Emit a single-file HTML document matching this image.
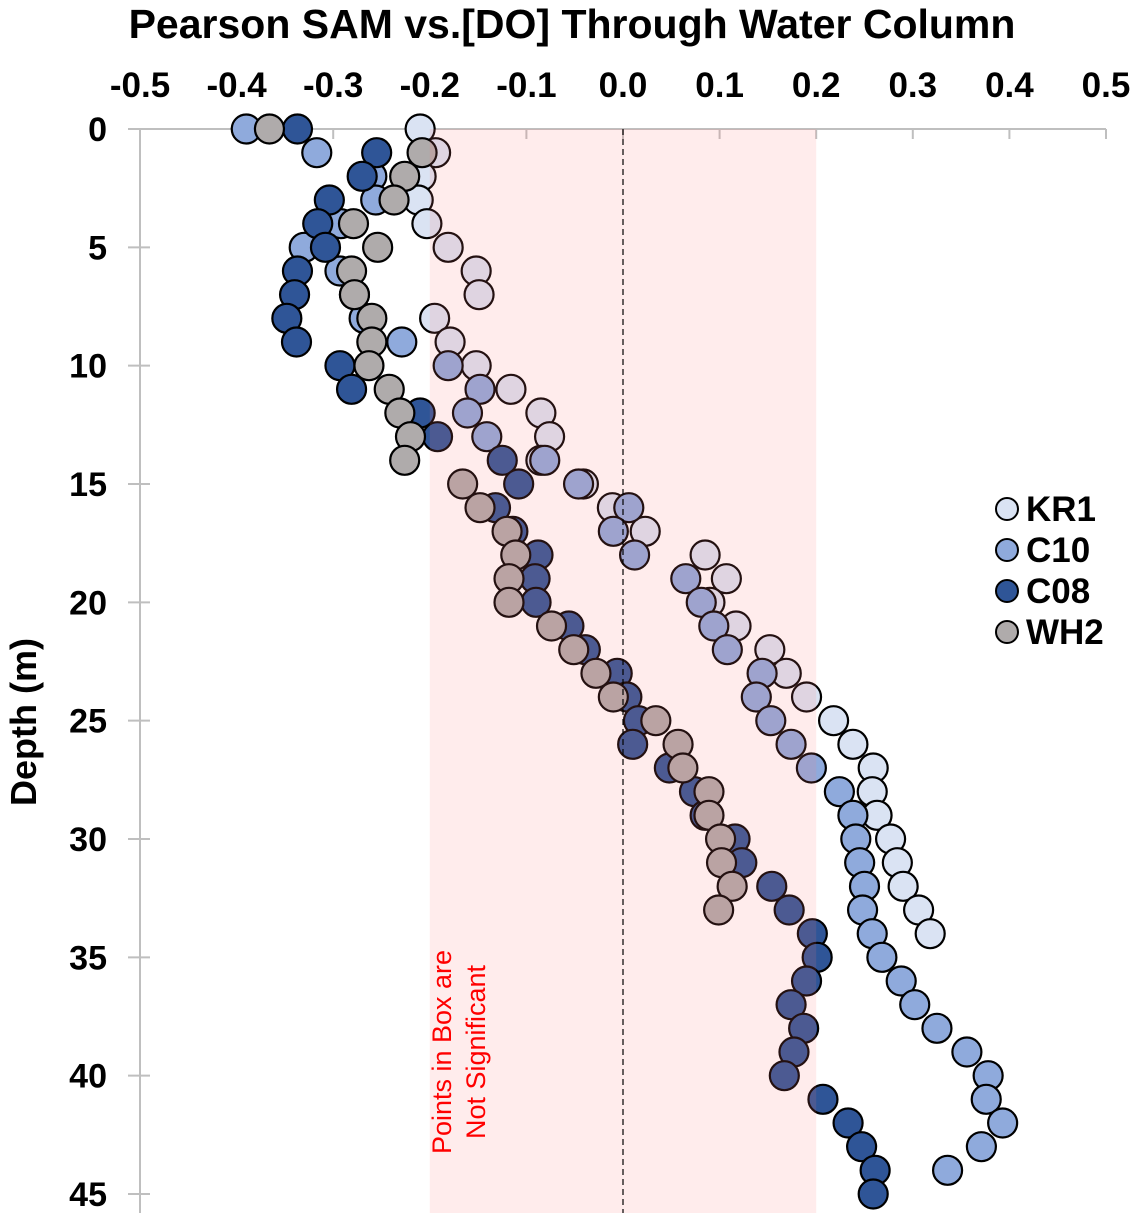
<!DOCTYPE html>
<html><head><meta charset="utf-8"><style>
body{margin:0;background:#fff}
svg{display:block;font-family:"Liberation Sans",Arial,sans-serif}
</style></head><body>
<svg id="chart" width="1142" height="1226" viewBox="0 0 1142 1226">
<text x="572" y="38" font-size="41" font-weight="bold" text-anchor="middle">Pearson SAM vs.[DO] Through Water Column</text>
<g id="axes"></g>
<g id="points"></g>
<rect id="box" fill="rgba(255,120,120,0.14)"></rect>
<line id="zeroline" stroke="#000" stroke-width="1.2" stroke-dasharray="6,4"></line>
<text transform="translate(451,1052) rotate(-90)" font-size="27" fill="#ff0000" text-anchor="middle"><tspan x="0" dy="0">Points in Box are</tspan><tspan x="0" dy="34">Not Significant</tspan></text>
<text transform="translate(36,722) rotate(-90)" font-size="36" font-weight="bold" text-anchor="middle">Depth (m)</text>
<g id="legend"></g>
</svg>
<script>
const xTicks=[-0.5,-0.4,-0.3,-0.2,-0.1,0.0,0.1,0.2,0.3,0.4,0.5];
const yTicks=[0,5,10,15,20,25,30,35,40,45];
const seriesNames=["KR1","C10","C08","WH2"];
const seriesColors=["#dae3f3","#8faadc","#2f5597","#afabab"];
const kr1=[-0.210,-0.194,-0.209,-0.212,-0.203,-0.181,-0.152,-0.149,-0.195,-0.179,-0.152,-0.116,-0.085,-0.076,-0.085,-0.041,-0.011,0.023,0.085,0.107,0.090,0.117,0.152,0.169,0.190,0.218,0.238,0.259,0.258,0.263,0.277,0.284,0.290,0.306,0.318];
const c10=[-0.390,-0.317,-0.260,-0.256,-0.292,-0.330,-0.293,-0.278,-0.268,-0.229,-0.181,-0.148,-0.161,-0.141,-0.081,-0.046,0.006,-0.010,0.012,0.065,0.081,0.094,0.108,0.144,0.138,0.153,0.174,0.195,0.224,0.238,0.241,0.245,0.250,0.248,0.258,0.268,0.288,0.302,0.325,0.356,0.378,0.376,0.393,0.371,0.336];
const c08=[-0.337,-0.255,-0.270,-0.304,-0.316,-0.308,-0.337,-0.340,-0.348,-0.338,-0.293,-0.281,-0.210,-0.192,-0.125,-0.108,-0.132,-0.114,-0.088,-0.091,-0.090,-0.056,-0.039,-0.006,0.004,0.016,0.010,0.048,0.074,0.085,0.116,0.123,0.154,0.172,0.196,0.201,0.190,0.174,0.187,0.177,0.167,0.207,0.233,0.247,0.261,0.259];
const wh2=[-0.366,-0.208,-0.226,-0.237,-0.279,-0.254,-0.281,-0.278,-0.260,-0.260,-0.263,-0.242,-0.231,-0.220,-0.226,-0.166,-0.148,-0.120,-0.111,-0.118,-0.118,-0.074,-0.051,-0.028,-0.010,0.034,0.057,0.062,0.089,0.089,0.101,0.102,0.113,0.099];
const sigLow=-0.2, sigHigh=0.2;

const NS="http://www.w3.org/2000/svg";
const X0=140,X1=1106,Y0=129,Y1=1194;
const xs=v=>X0+(v+0.5)/1.0*(X1-X0);
const ys=d=>Y0+d/45*(Y1-Y0);
function mk(tag,attrs,parent){const e=document.createElementNS(NS,tag);for(const k in attrs)e.setAttribute(k,attrs[k]);parent.appendChild(e);return e;}
const axes=document.getElementById('axes');
let l=mk('line',{x1:128,y1:Y0,x2:X1,y2:Y0,stroke:'#bfbfbf','stroke-width':2},axes);


l=mk('line',{x1:X0,y1:Y0,x2:X0,y2:1213,stroke:'#bfbfbf','stroke-width':2},axes);


xTicks.forEach(v=>{
  const t=mk('line',{x1:xs(v),y1:Y0,x2:xs(v),y2:Y0+10,stroke:'#bfbfbf','stroke-width':2},axes);
  
  
  const tx=mk('text',{x:xs(v),y:97,'font-size':35,'font-weight':'bold','text-anchor':'middle'},axes);
  tx.textContent=v.toFixed(1);
  
  
});
yTicks.forEach(d=>{
  const t=mk('line',{x1:128,y1:ys(d),x2:150,y2:ys(d),stroke:'#bfbfbf','stroke-width':2},axes);
  
  
  const tx=mk('text',{x:107,y:ys(d)+12,'font-size':34,'font-weight':'bold','text-anchor':'end'},axes);
  tx.textContent=d;
  
  
});
const box=document.getElementById('box');
box.setAttribute('x',xs(sigLow));box.setAttribute('y',Y0);
box.setAttribute('width',xs(sigHigh)-xs(sigLow));box.setAttribute('height',1213-Y0);
const z=document.getElementById('zeroline');
z.setAttribute('x1',xs(0));z.setAttribute('x2',xs(0));z.setAttribute('y1',Y0);z.setAttribute('y2',1213);
const pts=document.getElementById('points');
[kr1,c10,c08,wh2].forEach((arr,si)=>{
  arr.forEach((v,d)=>{
    const c=mk('circle',{cx:xs(v),cy:ys(d),r:14.5,fill:seriesColors[si],stroke:'#000','stroke-width':2.2},pts);
    
    
  });
});
const lg=document.getElementById('legend');
seriesNames.forEach((n,i)=>{
  const y=509+i*41;
  const c=mk('circle',{cx:1007,cy:y,r:11,fill:seriesColors[i],stroke:'#000','stroke-width':2},lg);
  
  
  const t=mk('text',{x:1026,y:y+12,'font-size':35,'font-weight':'bold'},lg);
  t.textContent=n;
  
  
});
</script>
</body></html>
